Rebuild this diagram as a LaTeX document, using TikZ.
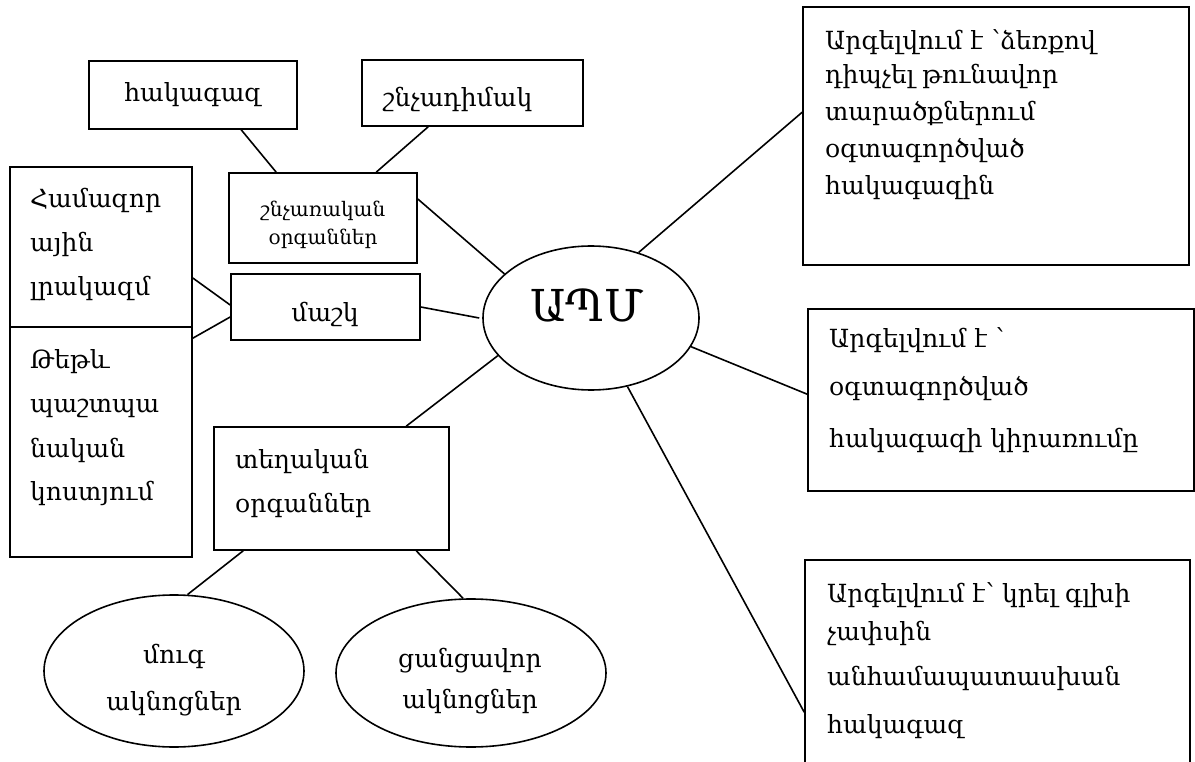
\documentclass[tikz,border=0pt]{standalone}
\usepackage{fontspec}
\setmainfont{DejaVu Serif}
\usetikzlibrary{shapes.geometric}
\tikzset{
  box/.style={draw, line width=1.6pt, inner sep=0pt},
  oval/.style={draw, ellipse, line width=1.6pt, inner sep=0pt},
  conn/.style={line width=1.6pt},
  tl/.style={anchor=base west, inner sep=0pt, font=\fontsize{25}{30}\selectfont},
  tc/.style={anchor=base, inner sep=0pt, font=\fontsize{25}{30}\selectfont},
  ts/.style={anchor=base, inner sep=0pt, font=\fontsize{20}{24}\selectfont},
}
\begin{document}
\begin{tikzpicture}[x=1pt,y=-1pt]
\useasboundingbox (0,0) rectangle (1195,762);
\clip (0,0) rectangle (1195,762);
% boxes
\node[box, minimum width=208pt, minimum height=68pt] (hak) at (193,95) {};
\node[box, minimum width=221pt, minimum height=66pt] (dim) at (472.5,93) {};
\node[box, minimum width=188pt, minimum height=90pt] (shn) at (323,218) {};
\node[box, minimum width=189pt, minimum height=66pt] (mashk) at (325.5,307) {};
\node[box, minimum width=182pt, minimum height=160pt] (ham) at (101,247) {};
\node[box, minimum width=182pt, minimum height=230pt] (tet) at (101,442) {};
\node[box, minimum width=235pt, minimum height=123pt] (teg) at (331.5,488.5) {};
\node[box, minimum width=386pt, minimum height=258pt] (r1) at (996,136) {};
\node[box, minimum width=386pt, minimum height=182pt] (r2) at (1001,400) {};
\node[box, minimum width=385pt, minimum height=220pt] (r3) at (997.5,670) {};
\node[oval, minimum width=216pt, minimum height=144pt] (apm) at (591,318) {};
\node[oval, minimum width=260pt, minimum height=152pt] (moog) at (174,671) {};
\node[oval, minimum width=270pt, minimum height=148pt] (tsang) at (471,673) {};
% texts
\node[tc] (hakt) at (193,102) {հակագազ};
\node[tl] (dimt) at (383,107) {շնչադիմակ};
\node[ts] (shn1) at (323,217) {շնչառական};
\node[ts] (shn2) at (323,245) {օրգաններ};
\node[tc] (mashkt) at (325,322) {մաշկ};
\node[tl] (ham1) at (30,208) {Համազոր};
\node[tl] (ham2) at (30,252) {ային};
\node[tl] (ham3) at (30,296) {լրակազմ};
\node[tl] (tet1) at (30,368) {Թեթև};
\node[tl] (tet2) at (30,412) {պաշտպա};
\node[tl] (tet3) at (30,457) {նական};
\node[tl] (tet4) at (30,500) {կոստյում};
\node[tl] (teg1) at (235,468) {տեղական};
\node[tl] (teg2) at (235,512) {օրգաններ};
\node[tc] (moog1) at (174,663) {մուգ};
\node[tc] (moog2) at (174,710) {ակնոցներ};
\node[tc] (tsang1) at (470,667) {ցանցավոր};
\node[tc] (tsang2) at (470,708) {ակնոցներ};
\node[tl] (r1a) at (825,50) {Արգելվում է ՝ձեռքով};
\node[tl] (r1b) at (825,84) {դիպչել թունավոր};
\node[tl] (r1c) at (825,121) {տարածքներում};
\node[tl] (r1d) at (825,158) {օգտագործված};
\node[tl] (r1e) at (825,195) {հակագազին};
\node[tl] (r2a) at (829,347) {Արգելվում է ՝};
\node[tl] (r2b) at (829,395) {օգտագործված};
\node[tl] (r2c) at (829,447) {հակագազի կիրառումը};
\node[tl] (r3a) at (827,602) {Արգելվում է՝ կրել գլխի};
\node[tl] (r3b) at (827,640) {չափսին};
\node[tl] (r3c) at (827,685) {անհամապատասխան};
\node[tl] (r3d) at (827,733) {հակագազ};
\node[anchor=base, inner sep=0pt, font=\fontsize{44}{50}\selectfont] (apmt) at (587,322) {ԱՊՄ};
% connectors
\draw[conn] ([xshift=153pt]hak.south west) -- ([xshift=48pt]shn.north west);
\draw[conn] ([xshift=67pt]dim.south west) -- ([xshift=148pt]shn.north west);
\draw[conn] ([yshift=19pt]shn.east) -- (apm.153);
\draw[conn] (mashk.east) -- ([xshift=-3pt]apm.west);
\draw[conn] ([yshift=-31pt]ham.east) -- ([yshift=2pt]mashk.west);
\draw[conn] ([yshift=-12pt]tet.north east) -- ([yshift=-10pt]mashk.west);
\draw[conn] (apm.202) -- ([xshift=193pt]teg.north west);
\draw[conn] (apm.54) -- ([yshift=-106pt]r1.north west);
\draw[conn] (apm.344) -- ([yshift=-86pt]r2.north west);
\draw[conn] (apm.298) -- ([yshift=-153pt]r3.north west);
\draw[conn] ([xshift=30pt]teg.south west) -- (moog.80);
\draw[conn] ([xshift=203pt]teg.south west) -- (tsang.96);
\end{tikzpicture}
\end{document}
